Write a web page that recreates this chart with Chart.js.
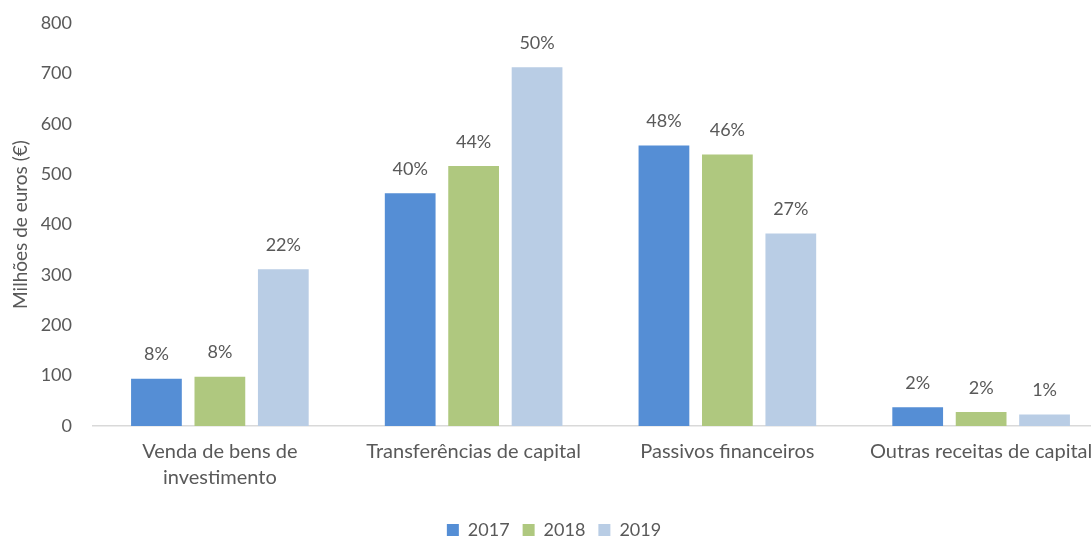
<!DOCTYPE html>
<html>
<head>
<meta charset="utf-8">
<script src="https://cdn.jsdelivr.net/npm/chart.js@4.4.1/dist/chart.umd.min.js"></script>
<style>
  html, body { margin: 0; padding: 0; overflow: hidden; background: #fff; }
  #wrap { width: 1108px; height: 537px; position: relative; }
</style>
</head>
<body>
<div id="wrap"><canvas id="receitasChart"></canvas></div>
<script>
// Receitas de capital por tipo (milhões de euros)
const categories = [
  ['Venda de bens de', 'investimento'],
  'Transferências de capital',
  'Passivos financeiros',
  'Outras receitas de capital'
];
const years = ['2017', '2018', '2019'];
const values2017 = [94, 462, 557, 37];
const values2018 = [98, 516, 539, 28];
const values2019 = [311, 712, 382, 23];
const shares2017 = ['8%', '40%', '48%', '2%'];
const shares2018 = ['8%', '44%', '46%', '2%'];
const shares2019 = ['22%', '50%', '27%', '1%'];
const yTicks = [0, 100, 200, 300, 400, 500, 600, 700, 800];

const textColor = '#595959';
const fontFamily = 'Lato, "Open Sans", sans-serif';

// percentage labels above each bar
const shareLabels = {
  id: 'shareLabels',
  afterDatasetsDraw(chart) {
    const ctx = chart.ctx;
    const shares = [shares2017, shares2018, shares2019];
    ctx.save();
    ctx.font = '18px ' + fontFamily;
    ctx.fillStyle = textColor;
    ctx.textAlign = 'center';
    ctx.textBaseline = 'middle';
    chart.data.datasets.forEach((ds, i) => {
      chart.getDatasetMeta(i).data.forEach((bar, j) => {
        ctx.fillText(shares[i][j], bar.x, bar.y - 24);
      });
    });
    ctx.restore();
  }
};

const ctx = document.getElementById('receitasChart').getContext('2d');
new Chart(ctx, {
  type: 'bar',
  data: {
    labels: categories,
    datasets: [
      { label: years[0], data: values2017, backgroundColor: '#558ed5' },
      { label: years[1], data: values2018, backgroundColor: '#afc87f' },
      { label: years[2], data: values2019, backgroundColor: '#b9cde5' }
    ]
  },
  options: {
    responsive: true,
    maintainAspectRatio: false,
    animation: false,
    datasets: {
      bar: { categoryPercentage: 0.75, barPercentage: 0.8 }
    },
    layout: { padding: { top: 23, right: 0, bottom: -12, left: 0 } },
    scales: {
      x: {
        afterFit(scale) {
          scale.height = 82;
        },
        grid: { display: false, drawTicks: false },
        border: { display: true, color: '#d9d9d9', width: 1.5 },
        ticks: {
          color: textColor,
          font: { family: fontFamily, size: 20, lineHeight: 1.3 },
          padding: 13,
          maxRotation: 0,
          autoSkip: false
        }
      },
      y: {
        min: 0,
        max: 800,
        afterBuildTicks(scale) {
          scale.ticks = yTicks.map(v => ({ value: v }));
        },
        afterFit(scale) {
          scale.width = 93;
          scale.paddingTop = 0;
          scale.paddingBottom = 0;
        },
        grid: { display: false, drawTicks: false },
        border: { display: false },
        ticks: {
          color: textColor,
          font: { family: fontFamily, size: 18 },
          padding: 21
        },
        title: {
          display: true,
          text: 'Milhões de euros (€)',
          color: textColor,
          font: { family: fontFamily, size: 19 },
          padding: { top: 9, bottom: 0 }
        }
      }
    },
    plugins: {
      legend: {
        position: 'bottom',
        labels: {
          color: textColor,
          font: { family: fontFamily, size: 18 },
          boxWidth: 12,
          boxHeight: 12,
          padding: 13
        }
      },
      tooltip: { enabled: false }
    }
  },
  plugins: [shareLabels]
});
</script>
</body>
</html>
